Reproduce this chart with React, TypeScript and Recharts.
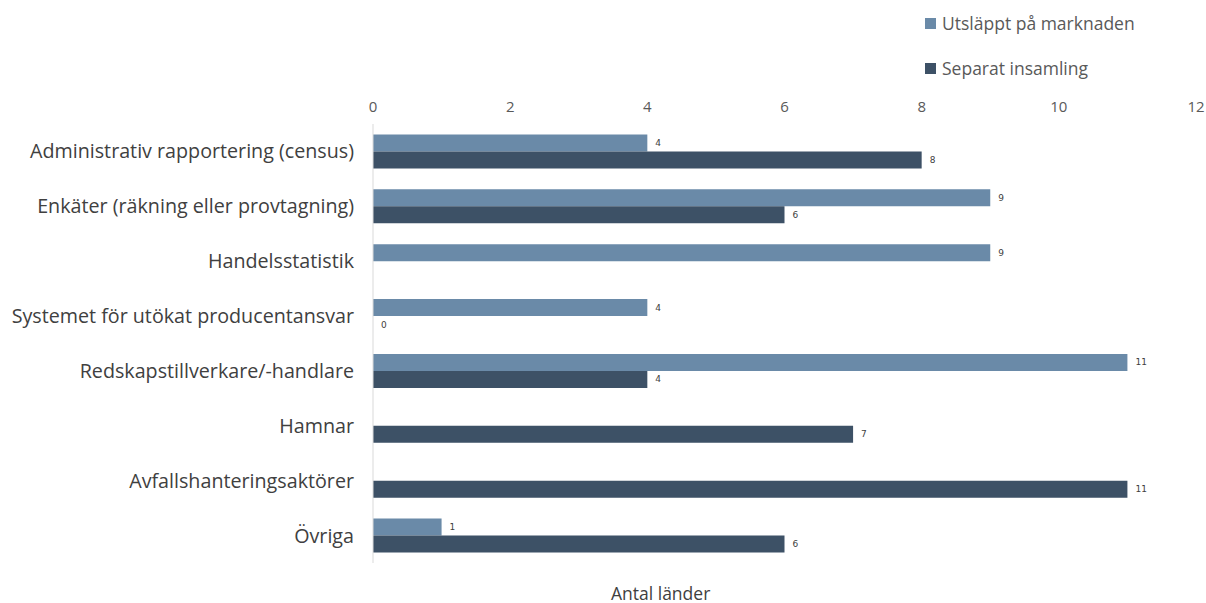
import React from "react";
import { BarChart, Bar, XAxis, YAxis, LabelList } from "recharts";

const categories = [
  "Administrativ rapportering (census)",
  "Enkäter (räkning eller provtagning)",
  "Handelsstatistik",
  "Systemet för utökat producentansvar",
  "Redskapstillverkare/-handlare",
  "Hamnar",
  "Avfallshanteringsaktörer",
  "Övriga",
];
const placedOnMarket = [4, 9, 9, 4, 11, null, null, 1];
const separateCollection = [8, 6, null, 0, 4, 7, 11, 6];
const xTicks = [0, 2, 4, 6, 8, 10, 12];

const LIGHT = "#6a8aa8";
const DARK = "#3d5166";
const FONT = "'Open Sans', sans-serif";

const data = categories.map((name, i) => ({
  name,
  market: placedOnMarket[i],
  collection: separateCollection[i],
}));

const legendItems = [
  { label: "Utsläppt på marknaden", color: LIGHT },
  { label: "Separat insamling", color: DARK },
];

// zero values still need a (hairline) bar so the "0" label gets drawn
const minSize = (v: any) => (v === 0 ? 0.01 : 0);

const ValueLabel = (props: any) => {
  const { x, y, width, height, value } = props;
  if (value == null) return null;
  return (
    <text
      x={x + width + 8}
      y={y + height / 2}
      dominantBaseline="central"
      fill="#404040"
      fontSize={9}
      fontFamily="'DejaVu Sans', sans-serif"
    >
      {String(value)}
    </text>
  );
};

export default function App() {
  return (
    <div style={{ position: "absolute", left: 0, top: 0, width: 1206, height: 603, background: "#fff" }}>
      <BarChart
        width={1206}
        height={603}
        data={data}
        layout="vertical"
        margin={{ top: 94, right: 10, bottom: 40, left: 0 }}
        barGap={0}
        barCategoryGap="19%"
      >
        <XAxis
          type="number"
          orientation="top"
          domain={[0, 12]}
          ticks={xTicks}
          axisLine={false}
          tickLine={false}
          height={30}
          tick={{ fill: "#595959", fontSize: 15, fontFamily: FONT }}
          tickMargin={6}
        />
        <YAxis
          type="category"
          dataKey="name"
          width={373}
          axisLine={{ stroke: "#d9d9d9" }}
          tickLine={false}
          tickMargin={13}
          tick={{ fill: "#404040", fontSize: 19.7, fontFamily: FONT }}
        />
        <Bar dataKey="market" name="Utsläppt på marknaden" fill={LIGHT} minPointSize={minSize} isAnimationActive={false}>
          <LabelList dataKey="market" content={ValueLabel} />
        </Bar>
        <Bar dataKey="collection" name="Separat insamling" fill={DARK} minPointSize={minSize} isAnimationActive={false}>
          <LabelList dataKey="collection" content={ValueLabel} />
        </Bar>
      </BarChart>
      <div style={{ position: "absolute", left: 925, top: 12, fontFamily: FONT, fontSize: 17.5, color: "#595959" }}>
        {legendItems.map((it, i) => (
          <div key={i} style={{ display: "flex", alignItems: "center", height: 22, marginBottom: i === 0 ? 23 : 0, whiteSpace: "nowrap" }}>
            <span style={{ display: "inline-block", width: 11, height: 11, background: it.color, marginRight: 6 }} />
            {it.label}
          </div>
        ))}
      </div>
      <div
        style={{
          position: "absolute",
          left: 611,
          top: 581,
          fontFamily: FONT,
          fontSize: 17.5,
          color: "#404040",
          whiteSpace: "nowrap",
        }}
      >
        Antal länder
      </div>
    </div>
  );
}
